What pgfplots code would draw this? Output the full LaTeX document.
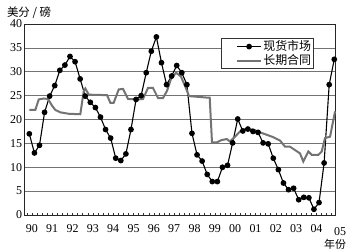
\documentclass[border=0pt]{standalone}
\usepackage{pgfplots}
\pgfplotsset{compat=1.18}
\usepackage{fontspec}
\setmainfont{Liberation Serif}
\newfontfamily\cjk{Noto Sans CJK SC}
\begin{document}
\begin{tikzpicture}
\begin{axis}[
  width=311.2bp, height=191bp, scale only axis,
  at={(0,0)}, anchor=south west,
  xmin=0.05, xmax=61.28, ymin=0, ymax=40,
  axis line style={black!85, line width=0.7bp},
  ytick={0,5,...,40},
  ymajorgrids, major grid style={black!55, line width=0.6bp},
  ytick style={draw=none},
  yticklabel style={font=\fontsize{12}{12}\selectfont, xshift=1bp},
  /pgf/number format/assume math mode=true,
  xtick={0.5,1.5,...,60.5}, xticklabels={},
  xtick pos=bottom, xtick align=inside,
  major tick length=2.2bp, xtick style={black!80, line width=0.5bp},
  extra x ticks={1.5,5.5,...,57.5},
  extra x tick labels={90,91,92,93,94,95,96,97,98,99,00,01,02,03,04},
  extra x tick style={major tick length=0pt, grid=none, xticklabel style={font=\fontsize{12}{12}\selectfont, yshift=-6bp}},
  clip=false,
  legend style={at={(0.631,0.925)}, anchor=north west, draw=black!80, line width=0.5bp,
    font=\cjk\fontsize{12}{13}\selectfont, inner xsep=1bp, inner ysep=1bp,
    row sep=0pt, nodes={inner sep=1.2bp}},
  legend cell align=left,
  legend image code/.code={\path (0bp,0bp); \draw[mark repeat=2,mark phase=2,#1] plot coordinates {(14bp,0bp) (26bp,0bp) (38bp,0bp)};},
]
\addplot[black, line width=1.1bp, mark=*, mark size=2.3bp, mark options={fill=black}] coordinates {
(1,17.0)(2,13.0)(3,14.6)(4,21.5)(5,24.9)(6,27.1)(7,30.3)(8,31.4)(9,33.2)(10,32.1)
(11,28.5)(12,24.9)(13,23.6)(14,22.5)(15,20.5)(16,17.9)(17,16.1)(18,11.9)(19,11.4)(20,12.8)
(21,17.9)(22,24.2)(23,25.0)(24,29.8)(25,34.3)(26,37.3)(27,31.9)(28,27.3)(29,29.1)(30,31.3)
(31,29.8)(32,27.3)(33,17.1)(34,12.6)(35,11.3)(36,8.5)(37,7.0)(38,7.0)(39,10.0)(40,10.4)
(41,15.1)(42,20.1)(43,17.6)(44,18.0)(45,17.5)(46,17.3)(47,15.1)(48,14.9)(49,11.9)(50,9.5)
(51,6.7)(52,5.3)(53,5.6)(54,3.2)(55,3.7)(56,3.6)(57,1.2)(58,2.6)(59,10.9)(60,27.3)(61,32.6)
};
\addlegendentry{现货市场}
\addplot[black!55, line width=2bp, no marks] coordinates {
(1.00,22.0)(2.18,22.0)(2.85,24.2)(3.83,24.4)(4.68,24.3)(5.47,22.9)(6.12,22.0)(7.10,21.5)
(8.75,21.2)(11.03,21.1)(11.70,25.9)(12.02,26.5)(12.69,25.2)(16.29,25.1)(16.94,23.5)(17.60,23.5)
(18.59,26.3)(19.43,26.4)(20.42,24.3)(22.38,24.2)(23.37,24.3)(24.35,26.6)(25.33,26.6)(26.32,24.5)
(27.30,24.5)(28.09,26.0)(28.88,28.5)(29.86,29.8)(30.84,29.0)(31.83,26.5)(32.42,24.9)(35.82,24.6)
(36.49,24.6)(36.94,15.2)(37.87,15.2)(38.85,15.7)(39.84,15.9)(40.49,15.4)(41.47,16.4)(42.46,17.5)
(43.44,18.0)(45.07,17.9)(46.39,17.3)(47.71,16.8)(49.00,16.3)(50.32,15.6)(51.31,14.3)(52.29,14.3)
(53.28,13.6)(54.26,12.9)(54.91,11.2)(55.90,13.3)(56.56,12.6)(57.86,12.6)(58.53,13.3)(59.18,16.1)
(60.17,16.4)(61.15,21.7)
};
\addlegendentry{长期合同}
\end{axis}
\node[font=\fontsize{12}{12}\selectfont] at (315.5bp,-17bp) {05};
\node[font=\cjk\fontsize{11}{11}\selectfont] at (310.5bp,-29bp) {年份};
\node[font=\cjk\fontsize{11.5}{11.5}\selectfont, anchor=west] at (-21bp,202bp) {美分 / 磅};
\pgfresetboundingbox
\path[use as bounding box] (-24.5bp,-36bp) rectangle (328.5bp,215bp);
\end{tikzpicture}
\end{document}
